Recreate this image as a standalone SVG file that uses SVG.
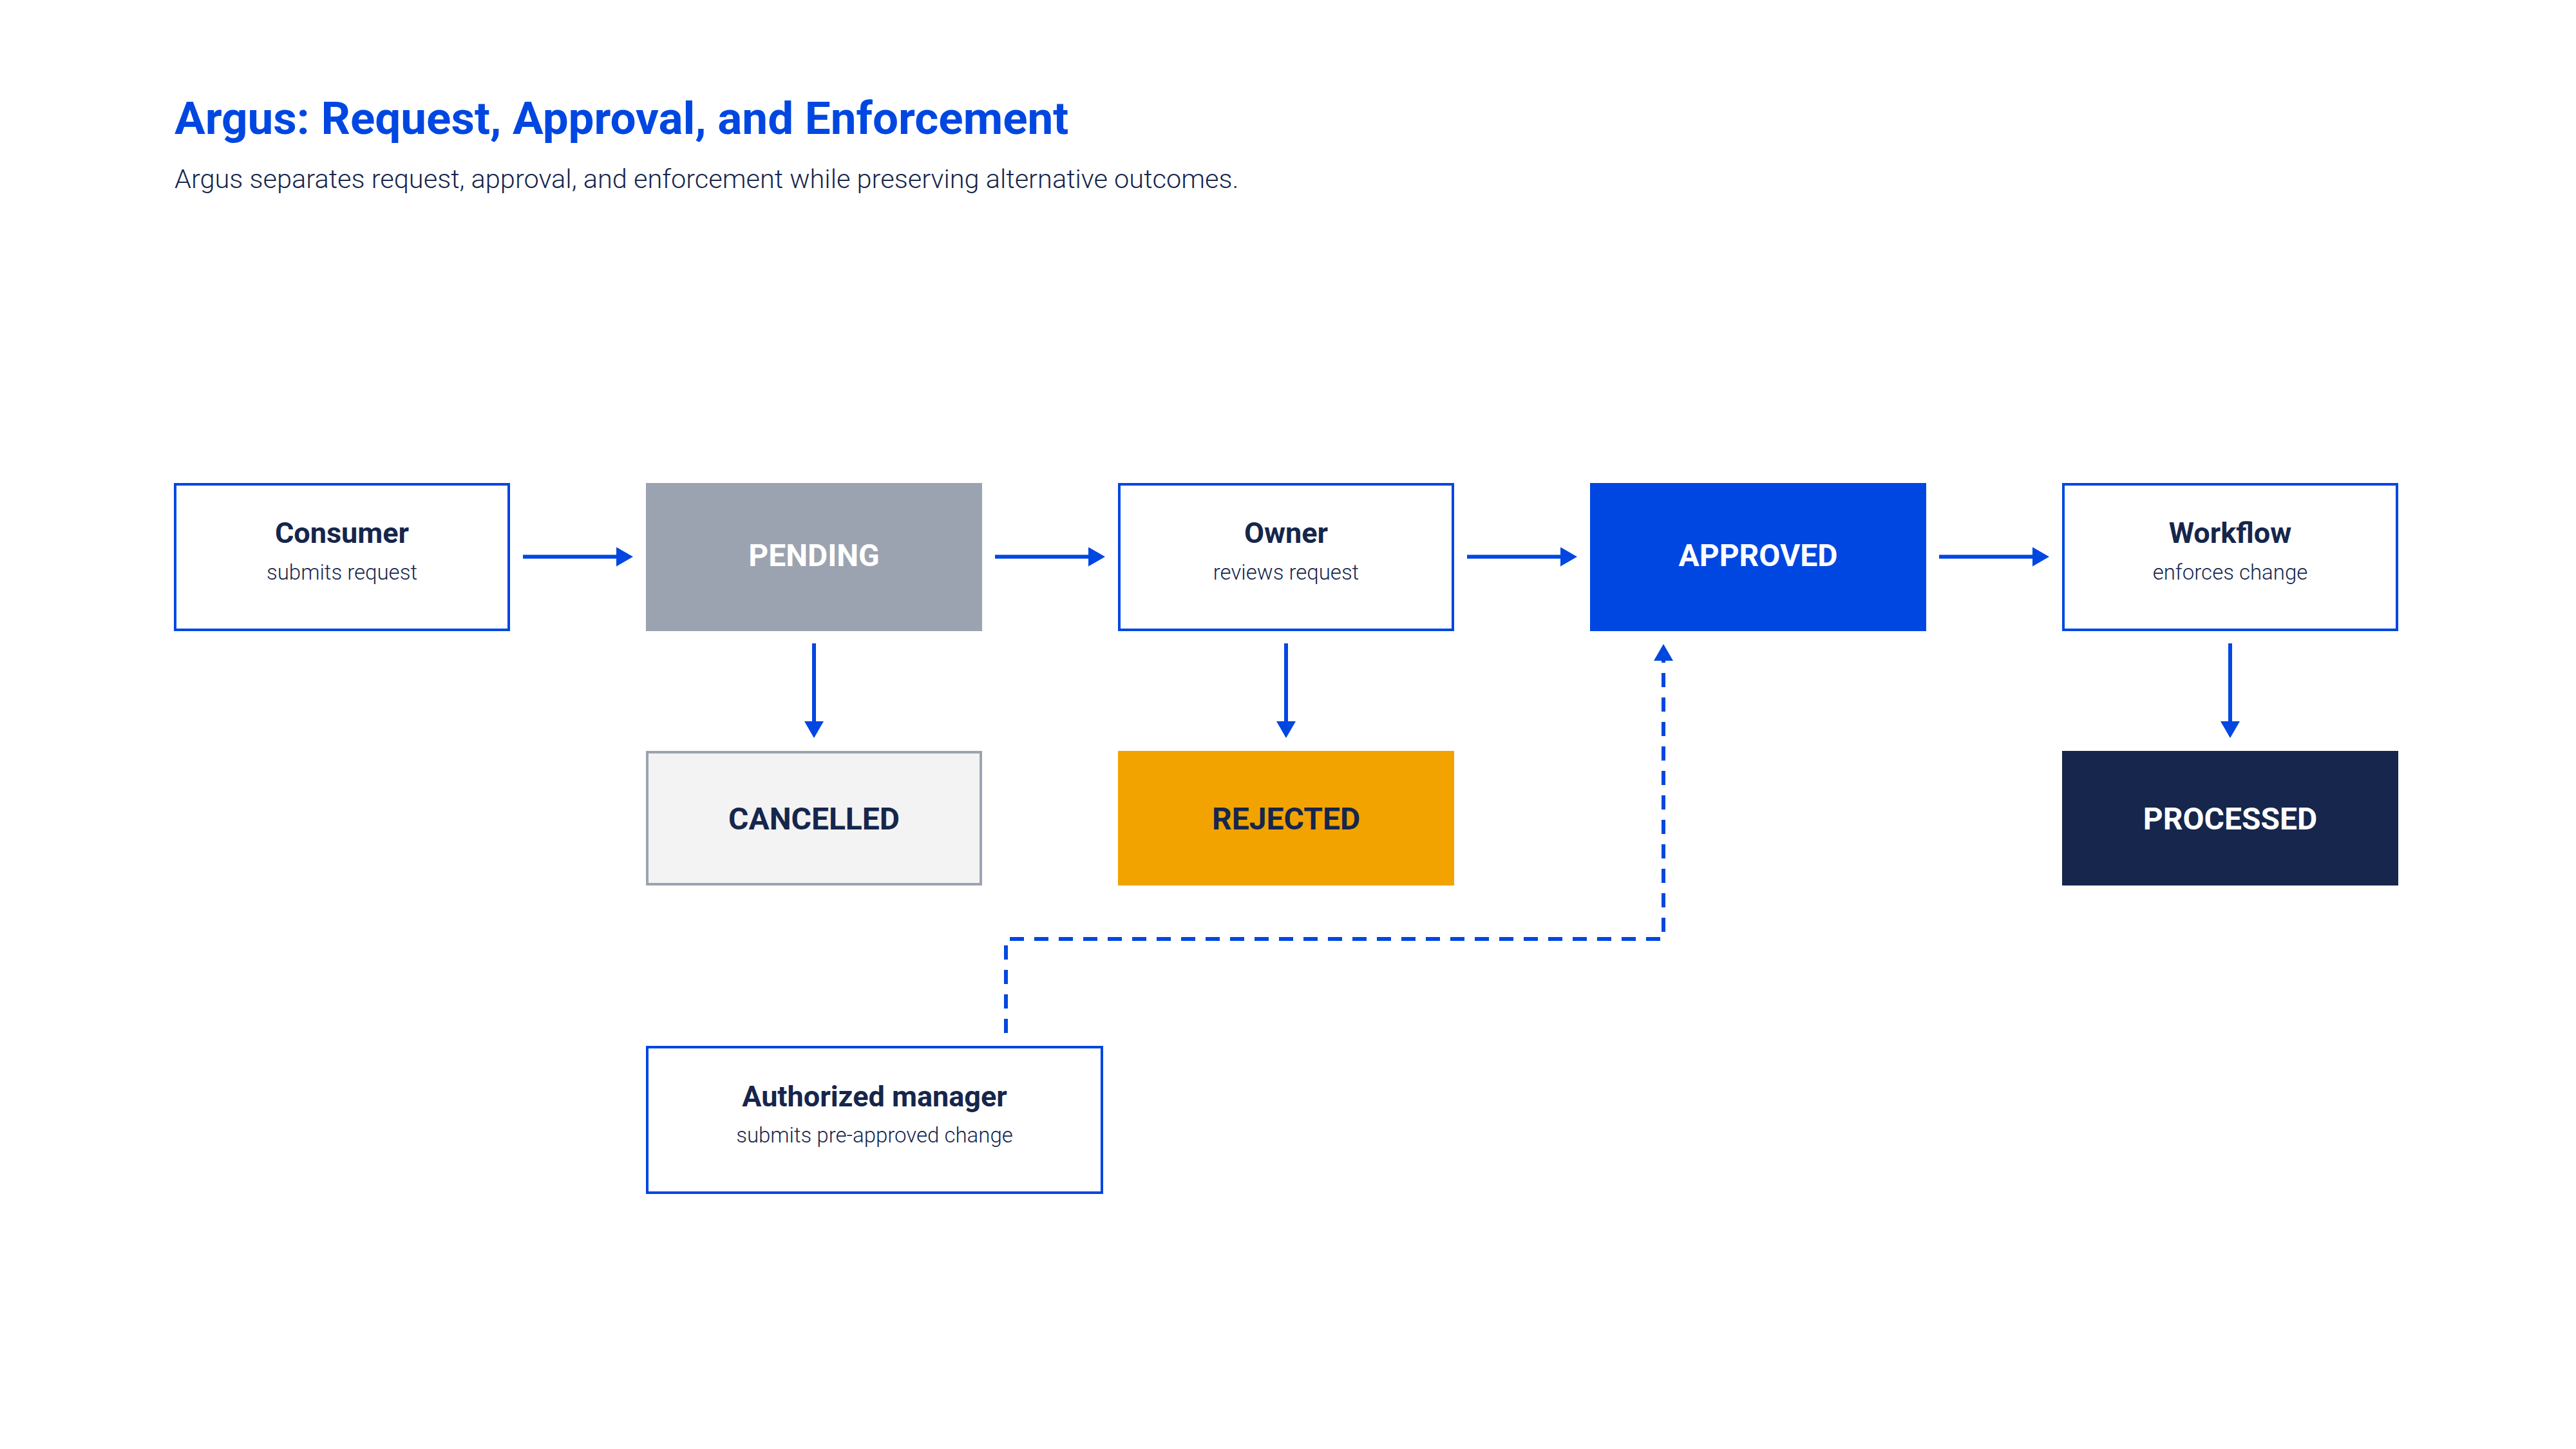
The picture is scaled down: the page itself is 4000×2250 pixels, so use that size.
<svg xmlns="http://www.w3.org/2000/svg" width="4000" height="2250" viewBox="0 0 4000 2250">
<defs>
<style>
.bg{fill:#ffffff}
.actor{fill:#ffffff;stroke:#0047e1;stroke-width:4}
.pending{fill:#9ca3b0}
.cancelled{fill:#f3f3f3;stroke:#9ca3b0;stroke-width:4}
.rejected{fill:#f2a300}
.approved{fill:#0047e1}
.processed{fill:#16264c}
.t{font-family:Roboto,"Liberation Sans",sans-serif;text-anchor:middle}
.name{font-size:45px;font-weight:700;fill:#16264c}
.sub{font-size:33px;font-weight:300;fill:#16264c}
.state{font-size:48px;font-weight:700}
.light{fill:#ffffff}
.dark{fill:#16264c}
.conn{fill:none;stroke:#0047e1;stroke-width:6}
.dash{stroke-dasharray:22 16}
</style>
<marker id="ah" markerUnits="userSpaceOnUse" viewBox="0 0 26 30" markerWidth="26" markerHeight="30" refX="16" refY="15" orient="auto">
<path d="M0,0 L26,15 L0,30 z" fill="#0047e1"/>
</marker>
</defs>
<rect class="bg" x="0" y="0" width="4000" height="2250"/>
<g id="title">
<text x="271" y="208" font-family="Roboto,'Liberation Sans',sans-serif" font-size="71" font-weight="700" fill="#0047e1">Argus: Request, Approval, and Enforcement</text>
<text x="271" y="292" font-family="Roboto,'Liberation Sans',sans-serif" font-size="41.5" font-weight="300" fill="#16264c">Argus separates request, approval, and enforcement while preserving alternative outcomes.</text>
</g>
<g id="connectors">
<path class="conn" d="M812,864.5 H973" marker-end="url(#ah)"/>
<path class="conn" d="M1545,864.5 H1706" marker-end="url(#ah)"/>
<path class="conn" d="M2278,864.5 H2439" marker-end="url(#ah)"/>
<path class="conn" d="M3011,864.5 H3172" marker-end="url(#ah)"/>
<path class="conn" d="M1264,999 V1136" marker-end="url(#ah)"/>
<path class="conn" d="M1997,999 V1136" marker-end="url(#ah)"/>
<path class="conn" d="M3463,999 V1136" marker-end="url(#ah)"/>
<path class="conn dash" d="M1562,1604 V1458 H2583 V1010" marker-end="url(#ah)"/>
</g>
<g id="consumer">
<rect class="actor" x="272" y="752" width="518" height="226"/>
<text class="t name" x="531" y="843">Consumer</text>
<text class="t sub" x="531" y="900">submits request</text>
</g>
<g id="pending">
<rect class="pending" x="1003" y="750" width="522" height="230"/>
<text class="t state light" x="1264" y="879">PENDING</text>
</g>
<g id="owner">
<rect class="actor" x="1738" y="752" width="518" height="226"/>
<text class="t name" x="1997" y="843">Owner</text>
<text class="t sub" x="1997" y="900">reviews request</text>
</g>
<g id="approved">
<rect class="approved" x="2469" y="750" width="522" height="230"/>
<text class="t state light" x="2730" y="879">APPROVED</text>
</g>
<g id="workflow">
<rect class="actor" x="3204" y="752" width="518" height="226"/>
<text class="t name" x="3463" y="843">Workflow</text>
<text class="t sub" x="3463" y="900">enforces change</text>
</g>
<g id="cancelled">
<rect class="cancelled" x="1005" y="1168" width="518" height="205"/>
<text class="t state dark" x="1264" y="1288">CANCELLED</text>
</g>
<g id="rejected">
<rect class="rejected" x="1736" y="1166" width="522" height="209"/>
<text class="t state dark" x="1997" y="1288">REJECTED</text>
</g>
<g id="processed">
<rect class="processed" x="3202" y="1166" width="522" height="209"/>
<text class="t state light" x="3463" y="1288">PROCESSED</text>
</g>
<g id="authorized-manager">
<rect class="actor" x="1005" y="1626" width="706" height="226"/>
<text class="t name" x="1358" y="1718">Authorized manager</text>
<text class="t sub" x="1358" y="1774">submits pre-approved change</text>
</g>
</svg>
